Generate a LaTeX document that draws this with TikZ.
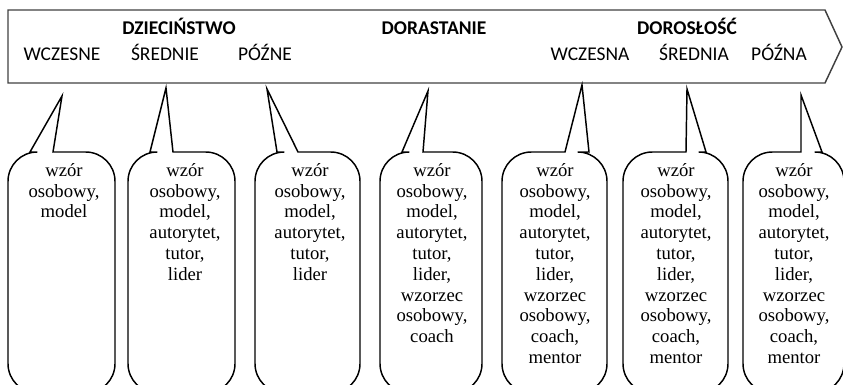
\documentclass[tikz,border=0pt]{standalone}
\usepackage{fontspec}
\setmainfont{Liberation Serif}
\newfontfamily\bannerfont{Carlito}

\tikzset{
  banner/.style={draw=black!75, line width=1.1pt},
  bubble/.style={draw=black, line width=1.1pt},
  stage/.style={font=\bannerfont\fontsize{14.6}{16}\selectfont, inner sep=0pt, anchor=base},
  period/.style={stage, font=\bannerfont\bfseries\fontsize{14.6}{16}\selectfont},
  role/.style={font=\fontsize{14}{15.6}\selectfont, align=center, inner sep=0pt, anchor=north},
}

\begin{document}
\begin{tikzpicture}[x=0.75pt, y=-0.75pt]
    \useasboundingbox (0,0) rectangle (843,385);
    \clip (0,0) rectangle (843,385);

    % time line
    \draw [banner] (8,10) -- (825,10) -- (842,47) -- (825,83) -- (8,83) -- cycle;

    \node[period] (child) at (179,35) {DZIECIŃSTWO};
    \node[period] (teen)  at (434,35) {DORASTANIE};
    \node[period] (adult) at (687,35) {DOROSŁOŚĆ};

    \node[stage] (c1) at (62,61)  {WCZESNE};
    \node[stage] (c2) at (165,61) {ŚREDNIE};
    \node[stage] (c3) at (265,61) {PÓŹNE};
    \node[stage] (a1) at (590,61) {WCZESNA};
    \node[stage] (a2) at (694,61) {ŚREDNIA};
    \node[stage] (a3) at (779,61) {PÓŹNA};

    % callouts
    \draw [bubble] (62,96)  -- (53,152)  [rounded corners=22] -- (115,152) -- (115,393) -- (8,393)   -- (8,152)   [sharp corners] -- (30,152)  -- cycle;
    \draw [bubble] (166,88) -- (173,152) [rounded corners=22] -- (235,152) -- (235,393) -- (128,393) -- (128,152) [sharp corners] -- (150,152) -- cycle;
    \draw [bubble] (267,89) -- (298,152) [rounded corners=22] -- (360,152) -- (360,393) -- (255,393) -- (255,152) [sharp corners] -- (277,152) -- cycle;
    \draw [bubble] (428,91) -- (423,152) [rounded corners=22] -- (482,152) -- (482,393) -- (380,393) -- (380,152) [sharp corners] -- (402,152) -- cycle;
    \draw [bubble] (582,85) -- (589,152) [rounded corners=22] -- (607,152) -- (607,393) -- (502,393) -- (502,152) [sharp corners] -- (565,152) -- cycle;
    \draw [bubble] (687,89) -- (706,152) [rounded corners=22] -- (728,152) -- (728,393) -- (623,393) -- (623,152) [sharp corners] -- (686,152) -- cycle;
    \draw [bubble] (801,95) -- (822,152) [rounded corners=22] -- (844,152) -- (844,393) -- (743,393) -- (743,152) [sharp corners] -- (801,152) -- cycle;

    \node[role] (r1) at (64,163)  {wzór\\osobowy,\\model};
    \node[role] (r2) at (185,163) {wzór\\osobowy,\\model,\\autorytet,\\tutor,\\lider};
    \node[role] (r3) at (310,163) {wzór\\osobowy,\\model,\\autorytet,\\tutor,\\lider};
    \node[role] (r4) at (432,163) {wzór\\osobowy,\\model,\\autorytet,\\tutor,\\lider,\\wzorzec\\osobowy,\\coach};
    \node[role] (r5) at (555,163) {wzór\\osobowy,\\model,\\autorytet,\\tutor,\\lider,\\wzorzec\\osobowy,\\coach,\\mentor};
    \node[role] (r6) at (676,163) {wzór\\osobowy,\\model,\\autorytet,\\tutor,\\lider,\\wzorzec\\osobowy,\\coach,\\mentor};
    \node[role] (r7) at (794,163) {wzór\\osobowy,\\model,\\autorytet,\\tutor,\\lider,\\wzorzec\\osobowy,\\coach,\\mentor};
\end{tikzpicture}
\end{document}
